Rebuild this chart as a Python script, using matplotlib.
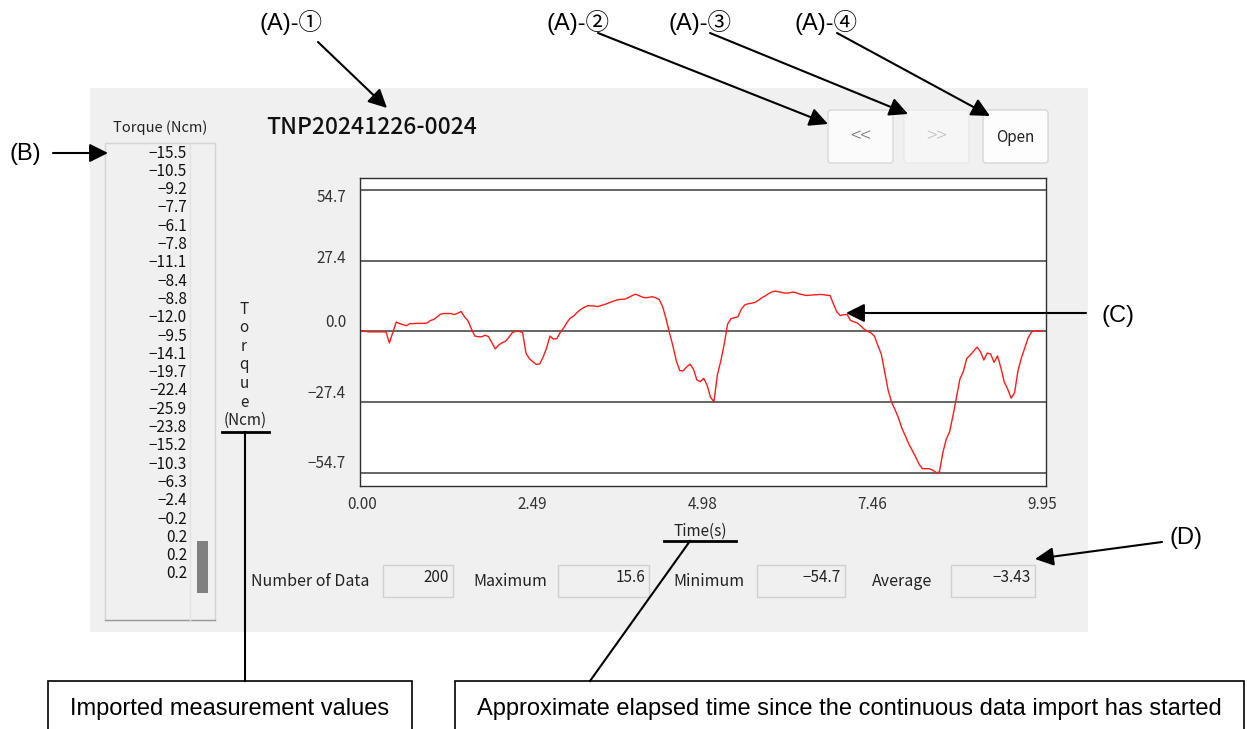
import numpy as np
import matplotlib
matplotlib.use('Agg')
import matplotlib.pyplot as plt
from matplotlib.patches import Rectangle, FancyBboxPatch

plt.rcParams['font.family'] = ['Noto Sans CJK JP', 'DejaVu Sans']
ANN_FONT = ['Liberation Sans', 'Noto Sans CJK JP', 'DejaVu Sans']

# torque samples (Ncm), 200 points; last 24 are the list on the left
torque = [
    0.0, 0.0, -0.2, -0.2, -0.2, -0.2, -0.2, -0.2, -4.5, -0.5,
    3.6, 3.0, 2.6, 2.2, 3.0, 3.0, 3.1, 3.1, 3.1, 3.2,
    4.2, 4.6, 5.6, 6.7, 6.9, 6.9, 6.9, 6.5, 7.0, 7.7,
    5.6, 4.1, 1.0, -1.8, -2.1, -2.1, -1.5, -2.0, -4.4, -6.8,
    -5.3, -4.4, -3.8, -2.3, -0.5, 0.0, 0.0, -0.5, -8.5, -10.6,
    -11.8, -12.8, -12.6, -10.0, -6.5, -1.8, -3.0, -2.8, -0.5, 1.3,
    3.5, 5.2, 6.0, 7.4, 8.5, 9.3, 9.9, 9.9, 9.8, 9.6,
    10.0, 10.4, 10.9, 11.4, 11.9, 12.3, 12.4, 12.5, 13.1, 13.8,
    14.4, 13.9, 13.3, 13.0, 13.2, 13.4, 13.0, 12.3, 9.5, 4.8,
    -0.6, -5.7, -11.5, -15.2, -15.3, -13.8, -12.7, -14.6, -18.8, -19.5,
    -18.2, -20.8, -25.5, -27.3, -17.0, -11.5, -5.0, 2.8, 4.9, 5.3,
    5.6, 8.6, 10.2, 10.7, 10.9, 11.2, 12.0, 13.0, 13.7, 14.6,
    15.3, 15.6, 15.3, 15.0, 14.8, 14.9, 15.2, 15.0, 14.5, 14.2,
    13.9, 14.0, 14.1, 14.2, 14.3, 14.2, 14.0, 13.9, 10.5, 7.5,
    6.1, 6.5, 6.5, 4.2, 3.7, 3.2, 2.1, 0.8, 0.0, -0.6,
    -1.9, -5.5, -8.9, -15.8, -22.8, -27.5, -30.3, -33.5, -37.5, -40.4,
    -43.5, -46.0, -48.5, -51.3, -53.2, -53.2, -53.2, -53.7, -54.7, -54.5,
    -47.0, -41.8, -38.8, -32.5, -25.5, -18.5,
    -15.5, -10.5, -9.2, -7.7, -6.1, -7.8, -11.1, -8.4, -8.8, -12.0,
    -9.5, -14.1, -19.7, -22.4, -25.9, -23.8, -15.2, -10.3, -6.3, -2.4,
    -0.2, 0.2, 0.2, 0.2,
]
sample_dt = 0.05
grid_vals = [54.7, 27.4, 0.0, -27.4, -54.7]
ytick_labels = ['54.7', '27.4', '0.0', '\u221227.4', '\u221254.7']
ytick_nudge = [7, -2, -9, -9, -9]   # label offsets seen in the screenshot (px, down)
xtick_vals = [0.00, 2.49, 4.98, 7.46, 9.95]
xtick_labels = ['0.00', '2.49', '4.98', '7.46', '9.95']

title = 'TNP20241226-0024'
stat_names = ['Number of Data', 'Maximum', 'Minimum', 'Average']
stat_values = ['200', '15.6', '\u221254.7', '\u22123.43']


def fmt(v):
    return f'{v:.1f}'.replace('-', '\u2212')


t = np.arange(len(torque)) * sample_dt
list_vals = torque[-24:]

fig = plt.figure(figsize=(12.47, 7.29), dpi=100)
W, H = 1247, 729

bg = fig.add_axes([0, 0, 1, 1])
bg.set_xlim(0, W)
bg.set_ylim(H, 0)
bg.axis('off')

# application window
bg.add_patch(Rectangle((90, 88), 998, 544, fc='#f0f0f0', ec='none'))
bg.text(266, 127, title, ha='left', va='center', fontsize=16.5, fontweight='medium', color='#111')

# buttons
for (x0, lbl, fc, ec, tc) in [(828, '<<', '#fbfbfb', '#d9d9d9', '#777777'),
                              (904, '>>', '#f6f6f6', '#e8e8e8', '#c0c0c0'),
                              (983, 'Open', '#fdfdfd', '#d6d6d6', '#222222')]:
    bg.add_patch(FancyBboxPatch((x0, 110), 65, 53, boxstyle='round,pad=0,rounding_size=3',
                                fc=fc, ec=ec, lw=1))
    if lbl == 'Open':
        bg.text(x0 + 32.5, 137, lbl, ha='center', va='center', fontsize=11, color=tc)
    else:
        bg.text(x0 + 32.5, 137, lbl, ha='center', va='center', fontsize=14, color=tc,
                fontweight='light')

# list of imported values
bg.text(160, 128, 'Torque (Ncm)', ha='center', va='center', fontsize=10.5, color='#222')
bg.add_patch(Rectangle((105, 143), 110, 477, fc='#f0f0f0', ec='#d4d4d4', lw=1))
bg.plot([105, 215], [620, 620], color='#9a9a9a', lw=1)
bg.plot([190, 190], [143, 620], color='#e2e2e2', lw=1)
bg.add_patch(Rectangle((197, 541), 11, 52, fc='#808080', ec='none'))
for k, v in enumerate(list_vals):
    bg.text(187, 153 + 18.3 * k, fmt(v), ha='right', va='center', fontsize=11, color='#111')

# vertical axis title
for k, ch in enumerate('Torque'):
    bg.text(244, 309 + 18.6 * k, ch, ha='center', va='center', fontsize=11, color='#222')
bg.text(245, 420, '(Ncm)', ha='center', va='center', fontsize=11, color='#222')
bg.text(700, 531, 'Time(s)', ha='center', va='center', fontsize=11, color='#222')

# statistics row
name_x = [251, 473, 673, 872]
box_x = [(383, 453), (558, 649), (757, 845), (951, 1035)]
for name, val, nx, (b0, b1) in zip(stat_names, stat_values, name_x, box_x):
    bg.text(nx, 582, name, ha='left', va='center', fontsize=11.5, color='#222')
    bg.add_patch(Rectangle((b0, 565), b1 - b0, 32, fc='#f0f0f0', ec='#d0d0d0', lw=1))
    bg.text(b1 - 4, 577, val, ha='right', va='center', fontsize=11, color='#222')

# chart
ax = fig.add_axes([360 / W, (H - 486) / H, 686 / W, 308 / H])
ax.set_zorder(2)
ax.set_facecolor('white')
for g in grid_vals:
    ax.axhline(g, color='#3c3c3c', lw=1.1, zorder=1)
ax.plot(t, torque, color='#ff1a1a', lw=1.0, zorder=2)
ax.set_xlim(-0.03, 10.01)
ax.set_ylim(-59.9, 59.4)
ax.set_xticks(xtick_vals)
ax.set_xticklabels(xtick_labels)
ax.set_yticks([])
ax.tick_params(axis='x', length=0, pad=7, labelsize=11, labelcolor='#333')
for s in ax.spines.values():
    s.set_color('#303030')
    s.set_linewidth(1)
for v, lbl, dy in zip(grid_vals, ytick_labels, ytick_nudge):
    ax.annotate(lbl, xy=(0, v), xycoords=('axes fraction', 'data'), xytext=(-14, -dy),
                textcoords='offset pixels', ha='right', va='center', fontsize=11, color='#333',
                annotation_clip=False)

# callouts on top
fg = fig.add_axes([0, 0, 1, 1])
fg.set_zorder(3)
fg.set_xlim(0, W)
fg.set_ylim(H, 0)
fg.patch.set_alpha(0)
fg.axis('off')

arrow = dict(arrowstyle='-|>', mutation_scale=28, lw=1.5, color='black', shrinkA=0, shrinkB=0)
callouts = [
    ('(A)-\u2460', (291, 22), (318, 42), (387, 108)),
    ('(A)-\u2461', (578, 22), (598, 33), (828, 124)),
    ('(A)-\u2462', (700, 22), (710, 33), (908, 114)),
    ('(A)-\u2463', (826, 22), (837, 33), (990, 116)),
    ('(B)', (25, 154), (53, 153), (108, 153)),
    ('(C)', (1118, 316), (1086, 313), (846, 313)),
    ('(D)', (1186, 538), (1162, 542), (1035, 559)),
]
for lbl, pos, start, end in callouts:
    fg.text(pos[0], pos[1], lbl, ha='center', va='center', fontsize=17, family=ANN_FONT)
    fg.annotate('', xy=end, xytext=start, arrowprops=arrow)

fg.plot([222, 269], [432, 432], color='black', lw=2)
fg.plot([245, 245], [432, 681], color='black', lw=1.5)
fg.plot([664, 736], [541, 541], color='black', lw=2)
fg.plot([690, 590], [541, 681], color='black', lw=1.5)

fg.add_patch(Rectangle((48, 681), 364, 70, fc='white', ec='black', lw=1.2))
fg.text(230, 709, 'Imported measurement values', ha='center', va='center', fontsize=17,
        family=ANN_FONT)
fg.add_patch(Rectangle((455, 681), 789, 70, fc='white', ec='black', lw=1.2))
fg.text(849, 709, 'Approximate elapsed time since the continuous data import has started',
        ha='center', va='center', fontsize=17, family=ANN_FONT)

fig.savefig('out.png', dpi=100, facecolor='white')
